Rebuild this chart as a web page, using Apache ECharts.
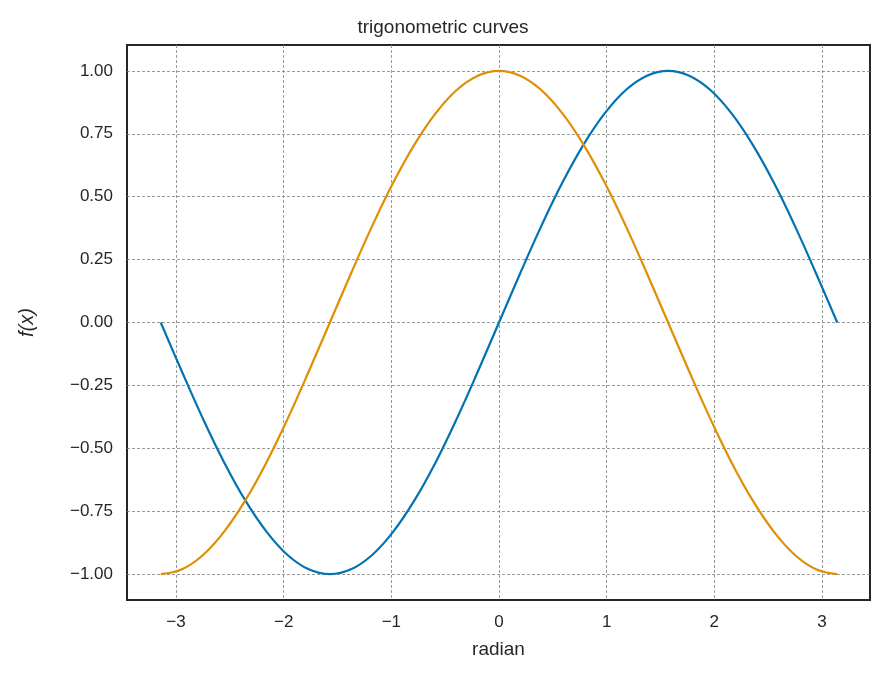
<!DOCTYPE html>
<html><head><meta charset="utf-8">
<script src="https://cdn.jsdelivr.net/npm/echarts@6/dist/echarts.min.js"></script>
<style>html,body{margin:0;background:#fff}#c{width:886px;height:686px}</style>
</head><body><div id="c"></div>
<script>
const xs = [-3.1416,-2.9452,-2.7489,-2.5525,-2.3562,-2.1598,-1.9635,-1.7671,-1.5708,-1.3744,-1.1781,-0.9817,-0.7854,-0.589,-0.3927,-0.1963,0,0.1963,0.3927,0.589,0.7854,0.9817,1.1781,1.3744,1.5708,1.7671,1.9635,2.1598,2.3562,2.5525,2.7489,2.9452,3.1416];
const sinVals = [0,-0.195,-0.383,-0.556,-0.707,-0.831,-0.924,-0.981,-1,-0.981,-0.924,-0.831,-0.707,-0.556,-0.383,-0.195,0,0.195,0.383,0.556,0.707,0.831,0.924,0.981,1,0.981,0.924,0.831,0.707,0.556,0.383,0.195,0];
const cosVals = [-1,-0.981,-0.924,-0.831,-0.707,-0.556,-0.383,-0.195,0,0.195,0.383,0.556,0.707,0.831,0.924,0.981,1,0.981,0.924,0.831,0.707,0.556,0.383,0.195,0,-0.195,-0.383,-0.556,-0.707,-0.831,-0.924,-0.981,-1];
const xTicks = [-3,-2,-1,0,1,2,3];
const yTicks = [-1,-0.75,-0.5,-0.25,0,0.25,0.5,0.75,1];
const F = 'Liberation Sans';
const split = {show:true,lineStyle:{color:'#808080',type:[3,2],width:0.8}};
const chart = echarts.init(document.getElementById('c'));
chart.setOption({
  animation:false,
  title:{text:'trigonometric curves',left:'center',top:13,textStyle:{fontFamily:F,fontWeight:'normal',fontSize:19,color:'#262626'}},
  grid:{left:127,right:16,top:45,bottom:86,show:true,borderColor:'#262626',borderWidth:2,backgroundColor:'#fff'},
  xAxis:{type:'value',min:-3.455,max:3.446,name:'radian',nameLocation:'middle',nameGap:40,
    nameTextStyle:{fontFamily:F,fontSize:19,color:'#262626'},
    axisLine:{show:false},axisTick:{show:false,customValues:xTicks},
    axisLabel:{customValues:xTicks,fontFamily:F,fontSize:17,color:'#262626',margin:14,formatter:v=>String(v).replace('-','\u2212')},
    splitLine:split},
  yAxis:{type:'value',min:-1.103,max:1.103,name:'f(x)',nameLocation:'middle',nameGap:90,
    nameTextStyle:{fontFamily:F,fontSize:20,fontStyle:'italic',color:'#262626'},
    axisLine:{show:false},axisTick:{show:false,customValues:yTicks},
    axisLabel:{customValues:yTicks,fontFamily:F,fontSize:17,color:'#262626',margin:14,formatter:v=>v.toFixed(2).replace('-','\u2212')},
    splitLine:split},
  series:[
    {type:'line',data:xs.map((x,i)=>[x,sinVals[i]]),smooth:0.4,showSymbol:false,lineStyle:{color:'#0173b2',width:2.2}},
    {type:'line',data:xs.map((x,i)=>[x,cosVals[i]]),smooth:0.4,showSymbol:false,lineStyle:{color:'#de8f05',width:2.2}}
  ]
});
</script></body></html>
